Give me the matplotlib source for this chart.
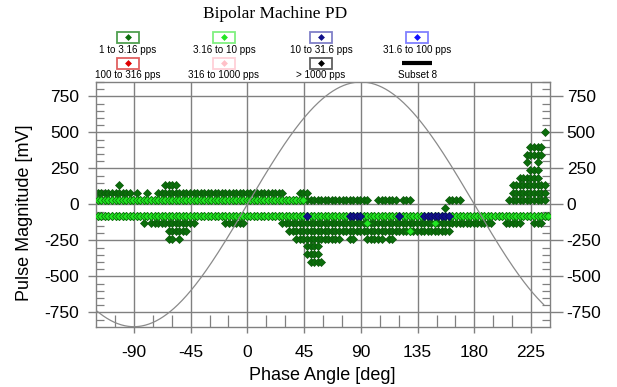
import numpy as np
import matplotlib
matplotlib.use("Agg")
import matplotlib.pyplot as plt
from matplotlib.patches import Rectangle

# ---------------- data ----------------
title = "Bipolar Machine PD"
x_label = "Phase Angle [deg]"
y_label = "Pulse Magnitude [mV]"
x_ticks = [-90, -45, 0, 45, 90, 135, 180, 225]
y_ticks = [-750, -500, -250, 0, 250, 500, 750]
x_limits = (-120, 240)
y_limits = (-850, 850)
n_phase_bins = 128
ref_amplitude = 850          # reference sine (mV)

legend_labels = ["1 to 3.16 pps", "3.16 to 10 pps", "10 to 31.6 pps", "31.6 to 100 pps",
                 "100 to 316 pps", "316 to 1000 pps", "> 1000 pps", "Subset 8"]
legend_marker_colors = ["#0b6e0b", "#22e622", "#10108a", "#1010ff",
                        "#e00000", "#ffc0c8", "#000000", "#000000"]
legend_box_colors = ["#4f9f4f", "#80f080", "#8080c8", "#8080ff",
                     "#e06060", "#ffd0d8", "#606060", None]

# runs of occupied phase bins: (magnitude mV, phase from, phase to)
dark_green_runs = [
    (505, 236, 236),
    (398, 225, 232), (345, 222, 232), (292, 221, 222), (292, 229, 230),
    (239, 225, 230), (186, 217, 231),
    (133, -102, -102), (133, -66, -56), (133, 211, 236),
    (80, -118, -94), (80, -87, -87), (80, -79, -79), (80, -70, 27), (80, 42, 46), (80, 211, 236),
    (27, -118, 96), (27, 105, 117), (27, 124, 129), (27, 161, 168), (27, 207, 236),
    (-27, 156, 156),
    (-80, -118, 238),
    (-133, -83, -83), (-133, -76, -44), (-133, -16, -4), (-133, 28, 193),
    (-133, 205, 216), (-133, 226, 233),
    (-186, -63, -47), (-186, 34, 161),
    (-239, -63, -59), (-239, -53, -53), (-239, 38, 74), (-239, 81, 85),
    (-239, 95, 107), (-239, 113, 114),
    (-292, 46, 56), (-345, 48, 56), (-398, 50, 60),
]
bright_green_runs = [
    (27, -118, 45), (-80, -118, 238),
    (-133, 95, 95), (-186, 130, 130), (-133, 150, 150),
]
navy_runs = [
    (-80, 48, 48), (-80, 81, 89), (-80, 121, 121), (-80, 139, 160),
]

# ---------------- helpers ----------------
bin_w = (x_limits[1] - x_limits[0]) / n_phase_bins
centers = x_limits[0] + bin_w * (np.arange(n_phase_bins) + 0.5)


def expand(runs):
    xs, ys = [], []
    for mag, a, b in runs:
        sel = centers[(centers >= a - bin_w / 2) & (centers < b + bin_w / 2)]
        if len(sel) == 0:
            sel = centers[[np.argmin(np.abs(centers - (a + b) / 2))]]
        xs.extend(sel)
        ys.extend([mag] * len(sel))
    return np.array(xs), np.array(ys)


plt.rcParams['font.family'] = ['Liberation Sans', 'DejaVu Sans']

W, H = 617, 387
fig = plt.figure(figsize=(W / 100, H / 100), dpi=100)
ax = fig.add_axes([96 / W, 1 - 326.7 / H, (550 - 96) / W, (326.7 - 82) / H])

grid_col = "#808080"
ax.set_xlim(*x_limits)
ax.set_ylim(*y_limits)
ax.set_xticks(x_ticks)
ax.set_yticks(y_ticks)
ax.set_xticks(np.arange(-105, 240, 15), minor=True)
ax.set_yticks(np.arange(-800, 851, 50), minor=True)
ax.set_xticklabels([str(v) for v in x_ticks])
ax.set_yticklabels([str(v) for v in y_ticks])
ax.grid(True, which='major', color=grid_col, lw=1.0)
ax.set_axisbelow(True)
for s in ax.spines.values():
    s.set_color(grid_col)
    s.set_linewidth(1.0)

ax.tick_params(axis='y', which='major', direction='out', length=6, width=1.0,
               color=grid_col, labelsize=12.5, left=True, right=True,
               labelleft=True, labelright=True, pad=6)
ax.tick_params(axis='x', which='major', direction='out', length=4, width=1.0,
               color=grid_col, labelsize=12.5, pad=9)
ax.tick_params(axis='y', which='minor', direction='in', length=6, width=0.9,
               color=grid_col, left=True, right=True)
ax.tick_params(axis='x', which='minor', direction='in', length=8.5, width=0.9,
               color=grid_col, bottom=True, top=False)
for t in ax.yaxis.get_major_ticks():
    t.tick2line.set_markersize(9)

# reference sine
ph = np.linspace(x_limits[0], 235, 500)
ax.plot(ph, ref_amplitude * np.sin(np.radians(ph)), color="#8a8a8a", lw=0.9, zorder=4)

ms = 3.7
xd, yd = expand(dark_green_runs)
ax.plot(xd, yd, 'D', ms=ms, color=legend_marker_colors[0], mec="#0a560a", mew=0.5,
        ls='none', zorder=2)
xb, yb = expand(bright_green_runs)
ax.plot(xb, yb, 'D', ms=ms, color=legend_marker_colors[1], mec="#0d7a0d", mew=0.6,
        ls='none', zorder=3)
xn, yn = expand(navy_runs)
ax.plot(xn, yn, 'D', ms=ms, color=legend_marker_colors[2], mec="#0a0a60", mew=0.5,
        ls='none', zorder=3.5)

# labels
fig.text(25 / W, 1 - 213 / H, y_label, rotation=90, ha='center', va='center', fontsize=13)
fig.text(322 / W, 1 - 376 / H, x_label, ha='center', va='center', fontsize=13)
fig.text(275 / W, 1 - 14 / H, title, ha='center', va='center', fontsize=12.5,
         family=['Liberation Serif', 'DejaVu Serif'])

# legend (overlay in pixel coords)
lax = fig.add_axes([0, 0, 1, 1], facecolor='none')
lax.set_xlim(0, W)
lax.set_ylim(H, 0)
lax.axis('off')
cols_x = [128, 224, 321, 417]
rows_y = [(37, 50), (63, 75)]
for i, lab in enumerate(legend_labels):
    cx = cols_x[i % 4]
    by, ty = rows_y[i // 4]
    if legend_box_colors[i] is None:
        lax.plot([cx - 15, cx + 15], [by, by], color=legend_marker_colors[i], lw=3,
                 solid_capstyle='butt')
    else:
        lax.add_patch(Rectangle((cx - 11, by - 5.5), 22, 11, fill=False,
                                ec=legend_box_colors[i], lw=1.3))
        lax.plot([cx], [by], 'D', ms=3.5, color=legend_marker_colors[i], mew=0)
    lax.text(cx, ty, lab, ha='center', va='center', fontsize=7.1)

fig.savefig("out.png", dpi=100)
